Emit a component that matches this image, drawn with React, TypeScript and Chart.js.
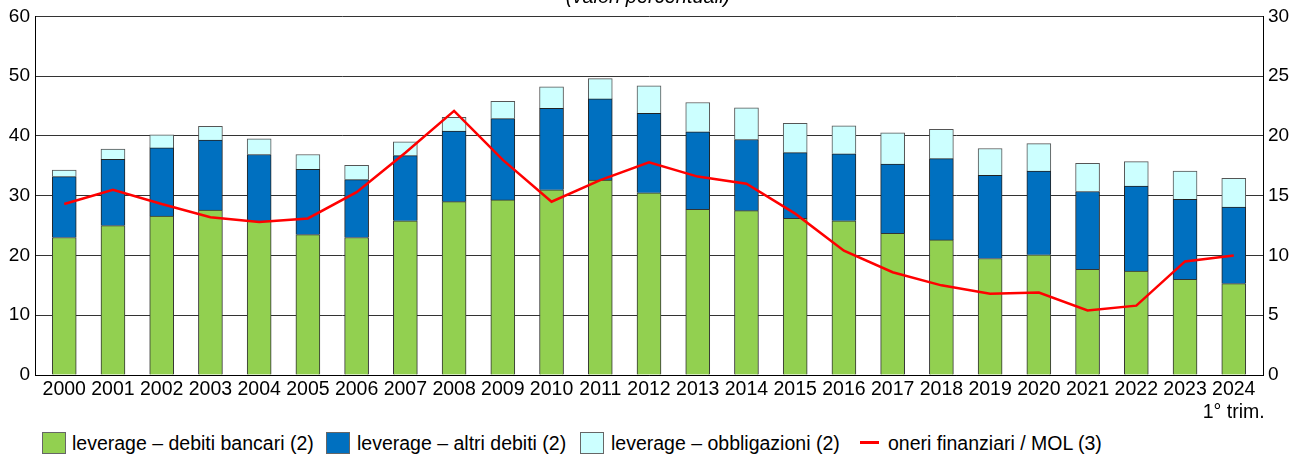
import React, { useEffect, useRef } from "react";
import { Chart, registerables } from "chart.js";

Chart.register(...registerables);

const FONT = '"Liberation Sans", Arial, sans-serif';

const titleText = "(valori percentuali)";

const tickLabels: (string | string[])[] = [
  "2000", "2001", "2002", "2003", "2004", "2005", "2006", "2007", "2008", "2009",
  "2010", "2011", "2012", "2013", "2014", "2015", "2016", "2017", "2018", "2019",
  "2020", "2021", "2022", "2023", ["2024", "1° trim."],
];

const debitiBancari = [
  23.0, 25.0, 26.6, 27.6, 25.7, 23.5, 23.0, 25.8, 29.0, 29.3,
  31.0, 32.6, 30.5, 27.7, 27.5, 26.2, 25.8, 23.7, 22.6, 19.5,
  20.1, 17.7, 17.4, 16.0, 15.3,
];

const altriDebiti = [
  10.2, 11.1, 11.4, 11.7, 11.2, 10.9, 9.7, 10.9, 11.8, 13.6,
  13.6, 13.6, 13.3, 13.0, 11.9, 11.0, 11.2, 11.6, 13.6, 13.9,
  14.0, 13.0, 14.2, 13.4, 12.8,
];

const obbligazioni = [
  1.1, 1.7, 2.2, 2.3, 2.6, 2.5, 2.4, 2.3, 2.3, 2.9,
  3.6, 3.4, 4.6, 4.9, 5.3, 4.9, 4.7, 5.2, 4.9, 4.5,
  4.6, 4.7, 4.1, 4.7, 4.8,
];

const oneriMol = [
  14.3, 15.5, 14.3, 13.2, 12.8, 13.1, 15.3, 18.6, 22.1, 18.0,
  14.5, 16.3, 17.8, 16.6, 16.0, 13.5, 10.4, 8.6, 7.5, 6.8,
  6.9, 5.4, 5.8, 9.5, 10.0,
];

const seriesNames = [
  "leverage – debiti bancari (2)",
  "leverage – altri debiti (2)",
  "leverage – obbligazioni (2)",
  "oneri finanziari / MOL (3)",
];

const colors = ["#92D050", "#0070C0", "#CCFFFF", "#FF0000"];

const toPoints = (arr: number[]) => arr.map((v, i) => ({ x: i, y: v }));

const titlePlugin = {
  id: "topTitle",
  afterDraw(chart: any) {
    const ctx = chart.ctx;
    ctx.save();
    ctx.font = `italic 20px ${FONT}`;
    ctx.fillStyle = "#000";
    ctx.textAlign = "center";
    ctx.textBaseline = "alphabetic";
    ctx.fillText(titleText, 648, 3);
    ctx.restore();
  },
};

export default function App() {
  const ref = useRef<HTMLCanvasElement | null>(null);

  useEffect(() => {
    if (!ref.current) return;
    const tickFont = { family: FONT, size: 19.5 };
    const chart = new Chart(ref.current, {
      type: "bar",
      data: {
        datasets: [
          {
            type: "line",
            label: seriesNames[3],
            data: toPoints(oneriMol),
            yAxisID: "y1",
            borderColor: colors[3],
            backgroundColor: colors[3],
            borderWidth: 2.5,
            pointRadius: 0,
            tension: 0,
            order: 0,
          } as any,
          {
            label: seriesNames[0],
            data: toPoints(debitiBancari),
            yAxisID: "y",
            backgroundColor: colors[0],
            borderColor: "#333",
            borderWidth: 1,
            barThickness: 24,
            order: 1,
          },
          {
            label: seriesNames[1],
            data: toPoints(altriDebiti),
            yAxisID: "y",
            backgroundColor: colors[1],
            borderColor: "#222",
            borderWidth: 1,
            barThickness: 24,
            order: 1,
          },
          {
            label: seriesNames[2],
            data: toPoints(obbligazioni),
            yAxisID: "y",
            backgroundColor: colors[2],
            borderColor: "#555",
            borderWidth: 1,
            barThickness: 24,
            order: 1,
          },
        ],
      },
      options: {
        responsive: false,
        animation: false,
        layout: { padding: { top: 16, left: 0, right: 0, bottom: 0 } },
        plugins: {
          legend: { display: false },
          tooltip: { enabled: false },
        },
        scales: {
          x: {
            type: "linear",
            min: -0.6,
            max: 24.6,
            offset: false,
            stacked: true,
            grid: { display: false, drawTicks: false, offset: false },
            border: { display: true, color: "#000", width: 1 },
            afterBuildTicks: (s: any) => {
              s.ticks = tickLabels.map((_, i) => ({ value: i }));
            },
            afterFit: (s: any) => {
              s.height = 53;
            },
            ticks: {
              autoSkip: false,
              maxRotation: 0,
              minRotation: 0,
              padding: 3,
              color: "#000",
              font: tickFont,
              callback: (v: any) => tickLabels[v as number] as any,
            },
          },
          y: {
            position: "left",
            min: 0,
            max: 60,
            stacked: true,
            grid: { color: "#333", lineWidth: 1, drawTicks: false },
            border: { display: true, color: "#000", width: 1 },
            afterFit: (s: any) => {
              s.width = 35;
            },
            ticks: { stepSize: 10, padding: 5, color: "#000", font: { family: FONT, size: 19 } },
          },
          y1: {
            position: "right",
            min: 0,
            max: 30,
            grid: { display: false, drawTicks: false },
            border: { display: true, color: "#000", width: 1 },
            afterFit: (s: any) => {
              s.width = 40;
            },
            ticks: { stepSize: 5, padding: 5, color: "#000", font: { family: FONT, size: 19 } },
          },
        },
      } as any,
      plugins: [titlePlugin],
    });
    return () => chart.destroy();
  }, []);

  const legendText: React.CSSProperties = {
    position: "absolute",
    top: 432,
    height: 22,
    lineHeight: "22px",
    fontFamily: FONT,
    fontSize: 19.5,
    color: "#000",
    whiteSpace: "nowrap",
  };
  const box = (left: number, color: string): React.CSSProperties => ({
    position: "absolute",
    left,
    top: 432,
    width: 24,
    height: 22,
    boxSizing: "border-box",
    background: color,
    border: "1px solid #666",
  });

  return (
    <div style={{ position: "absolute", left: 0, top: 0, width: 1303, height: 457, background: "#fff", overflow: "hidden" }}>
      <canvas ref={ref} width={1303} height={428} style={{ display: "block", width: 1303, height: 428 }} />
      <div style={box(42, colors[0])} />
      <div style={{ ...legendText, left: 72 }}>{seriesNames[0]}</div>
      <div style={box(326, colors[1])} />
      <div style={{ ...legendText, left: 357 }}>{seriesNames[1]}</div>
      <div style={box(580, colors[2])} />
      <div style={{ ...legendText, left: 611 }}>{seriesNames[2]}</div>
      <div style={{ position: "absolute", left: 860, top: 441, width: 19, height: 3, background: colors[3] }} />
      <div style={{ ...legendText, left: 888 }}>{seriesNames[3]}</div>
    </div>
  );
}
